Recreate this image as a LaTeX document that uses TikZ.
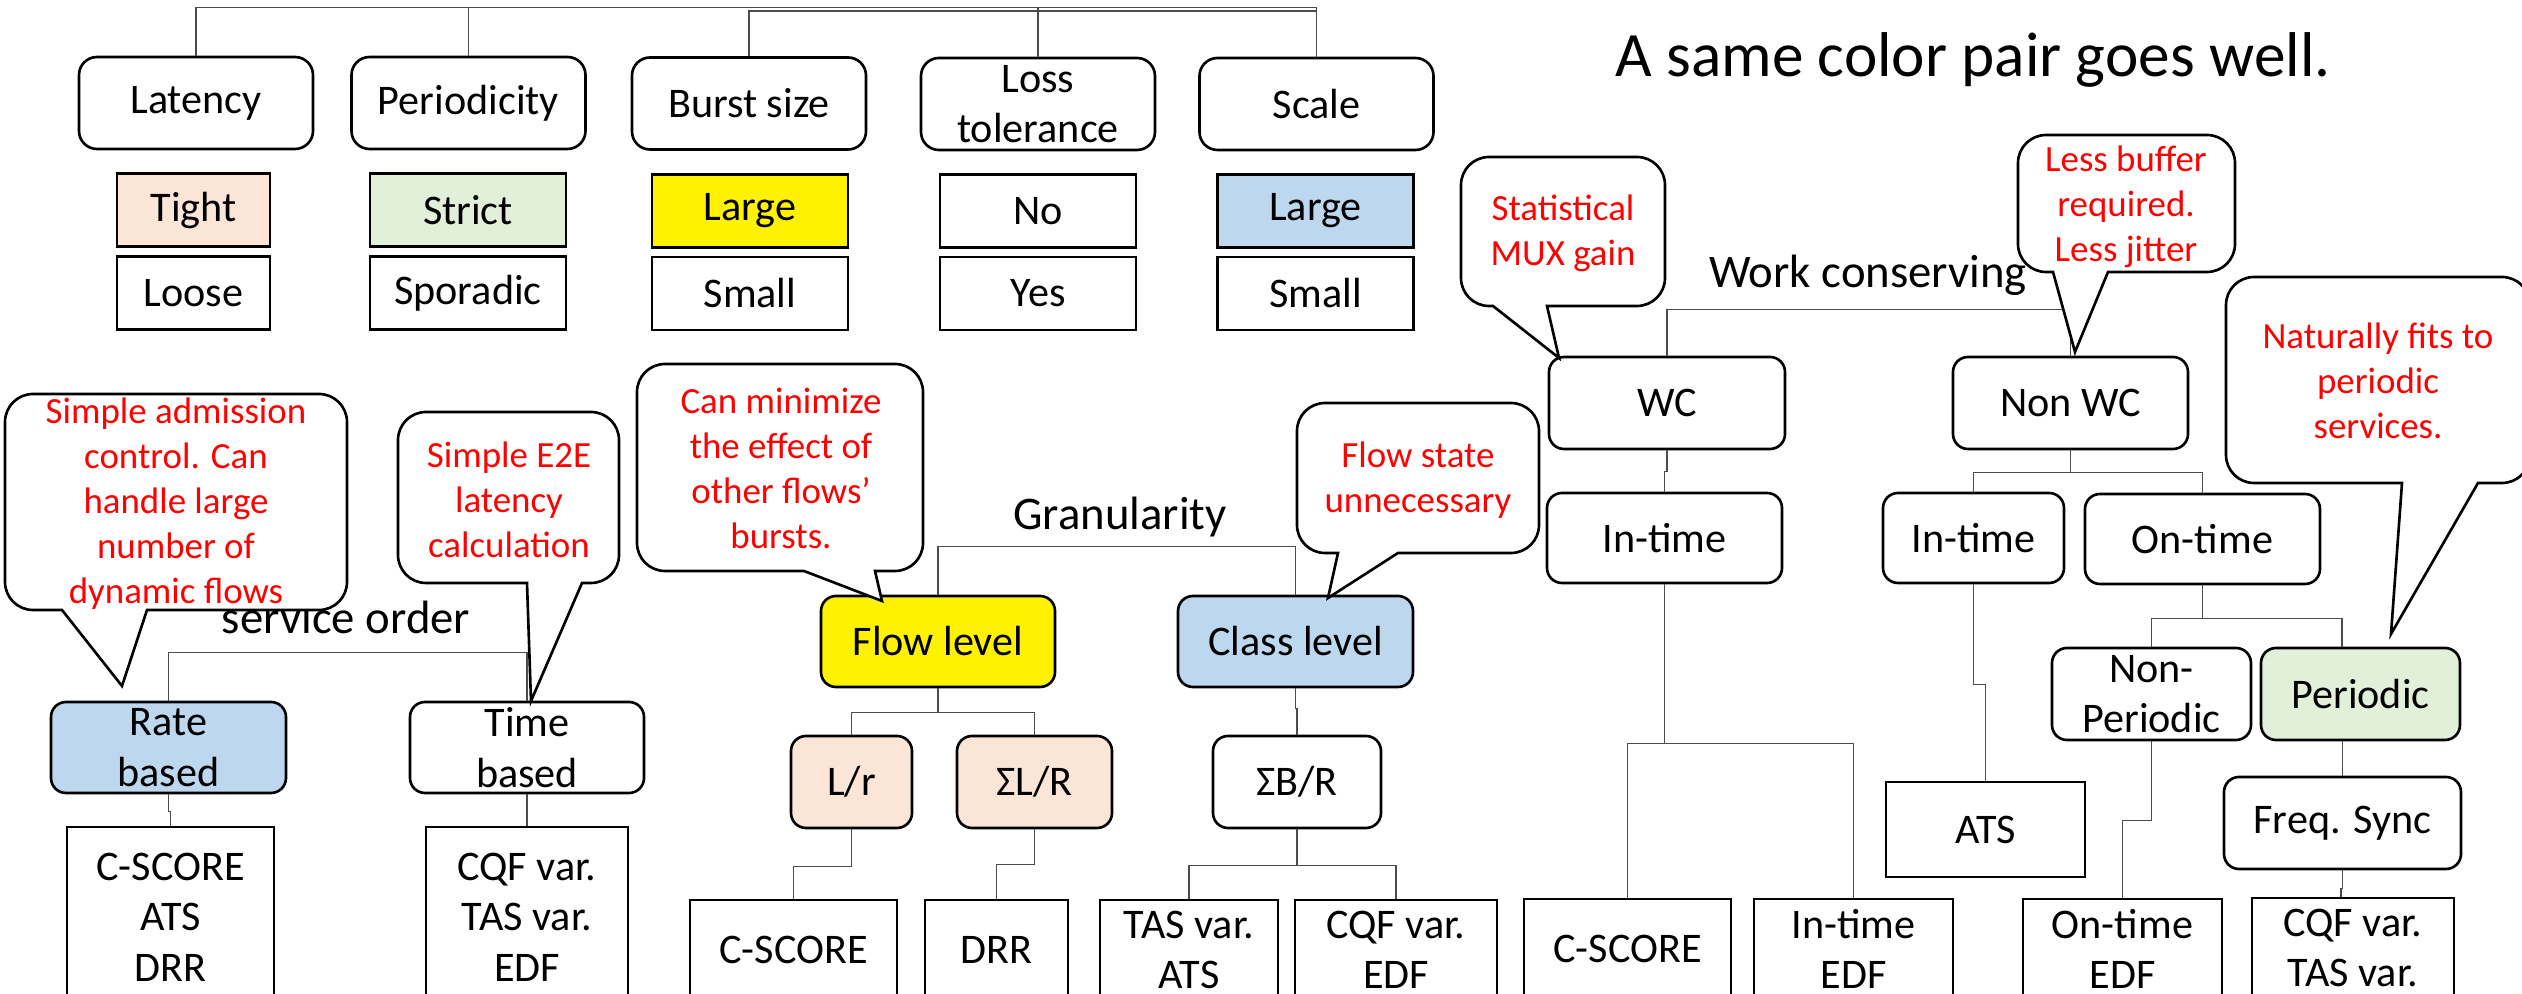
\documentclass[tikz,border=0pt]{standalone}
\usepackage{fontspec}
\setmainfont{Carlito}
\usepackage{xcolor}
\usepackage{tikz}
\definecolor{peach}{HTML}{FBE5D6}
\definecolor{mint}{HTML}{E2F0D9}
\definecolor{sky}{HTML}{BDD7EE}
\tikzstyle{rbox} = [draw,line width=0.75pt,rounded corners=1.5mm,align=center,inner sep=0pt,font=\fontsize{12}{14.4}\selectfont]
\tikzstyle{sbox} = [draw,line width=0.75pt,align=center,inner sep=0pt,font=\fontsize{12}{14.4}\selectfont]
\tikzstyle{topbox} = [rbox,rounded corners=1.8mm,minimum width=2.34cm,minimum height=0.92cm]
\tikzstyle{valbox} = [sbox,minimum width=1.96cm,minimum height=0.73cm]
\tikzstyle{note} = [text=red,align=center,inner sep=0pt,font=\fontsize{10.5}{12.8}\selectfont]
\tikzstyle{lbl} = [anchor=base,inner sep=0pt,font=\fontsize{13.3}{16}\selectfont]
\tikzstyle{link} = [draw=black!70,line width=0.45pt]
\tikzstyle{bubble} = [draw,line width=0.75pt,fill=white]
% speech bubble: left, top, right, bottom, pointer base left/right, pointer tip
\newcommand{\bubble}[8]{%
  \path[bubble] (#5,#4) -- (#7,#8) -- (#6,#4) -- ({#3-0.28},#4)
    arc[start angle=270,end angle=360,radius=0.28] -- (#3,{#2-0.28})
    arc[start angle=0,end angle=90,radius=0.28] -- ({#1+0.28},#2)
    arc[start angle=90,end angle=180,radius=0.28] -- (#1,{#4+0.28})
    arc[start angle=180,end angle=270,radius=0.28] -- cycle;}

\begin{document}
\begin{tikzpicture}
\useasboundingbox (0,0) rectangle (25.22,-9.94);
\clip (0,0) rectangle (25.22,-9.94);

% properties
\node[topbox] (lat) at (1.96,-1.03) {Latency};
\node[topbox] (per) at (4.685,-1.03) {Periodicity};
\node[topbox] (bur) at (7.49,-1.035) {Burst size};
\node[topbox] (los) at (10.38,-1.04) {Loss\\tolerance};
\node[topbox] (sca) at (13.165,-1.04) {Scale};

\node[valbox,fill=peach,minimum width=1.53cm] (tig) at (1.935,-2.10) {Tight};
\node[valbox,minimum width=1.53cm] (loo) at (1.935,-2.93) {Loose};
\node[valbox,fill=mint] (str) at (4.68,-2.10) {Strict};
\node[valbox] (spo) at (4.68,-2.93) {Sporadic};
\node[valbox,fill=yellow] (lar) at (7.50,-2.11) {Large};
\node[valbox] (sma) at (7.50,-2.935) {Small};
\node[valbox] (no) at (10.38,-2.11) {No};
\node[valbox] (yes) at (10.38,-2.935) {Yes};
\node[valbox,fill=sky] (lab) at (13.155,-2.11) {Large};
\node[valbox] (sml) at (13.155,-2.935) {Small};

\node[anchor=base,inner sep=0pt,font=\fontsize{18}{22}\selectfont] (title) at (19.73,-0.77) {A same color pair goes well.};

% service order
\node[rbox,fill=sky,minimum width=2.35cm,minimum height=0.91cm] (rat) at (1.685,-7.475) {Rate\\based};
\node[rbox,minimum width=2.34cm,minimum height=0.91cm] (tim) at (5.27,-7.475) {Time\\based};
\node[sbox,minimum width=2.07cm,minimum height=1.8cm] (lfr) at (1.705,-9.17) {C-SCORE\\ATS\\DRR};
\node[sbox,minimum width=2.02cm,minimum height=1.8cm] (lft) at (5.27,-9.17) {CQF var.\\TAS var.\\EDF};
\node[lbl] (ord) at (3.46,-6.34) {service order};

% granularity
\node[rbox,fill=yellow,minimum width=2.34cm,minimum height=0.91cm] (flo) at (9.38,-6.415) {Flow level};
\node[rbox,fill=sky,minimum width=2.35cm,minimum height=0.91cm] (cla) at (12.955,-6.415) {Class level};
\node[rbox,fill=peach,minimum width=1.21cm,minimum height=0.92cm] (lr) at (8.515,-7.82) {L/r};
\node[rbox,fill=peach,minimum width=1.55cm,minimum height=0.92cm] (slr) at (10.345,-7.82) {ΣL/R};
\node[rbox,minimum width=1.68cm,minimum height=0.92cm] (sbr) at (12.97,-7.82) {ΣB/R};
\node[sbox,minimum width=2.07cm,minimum height=1.0cm] (cs1) at (7.935,-9.5) {C-SCORE};
\node[sbox,minimum width=1.43cm,minimum height=1.0cm] (drr) at (9.965,-9.5) {DRR};
\node[sbox,minimum width=1.78cm,minimum height=1.0cm] (tas) at (11.89,-9.5) {TAS var.\\ATS};
\node[sbox,minimum width=2.02cm,minimum height=1.0cm] (cqf) at (13.96,-9.5) {CQF var.\\EDF};
\node[lbl] (gra) at (11.2,-5.30) {Granularity};

% work conserving
\node[rbox,minimum width=2.36cm,minimum height=0.92cm] (wc) at (16.67,-4.03) {WC};
\node[rbox,minimum width=2.35cm,minimum height=0.92cm] (nwc) at (20.705,-4.03) {Non WC};
\node[rbox,minimum width=2.35cm,minimum height=0.90cm] (it1) at (16.645,-5.38) {In-time};
\node[rbox,minimum width=1.81cm,minimum height=0.90cm] (it2) at (19.735,-5.38) {In-time};
\node[rbox,minimum width=2.35cm,minimum height=0.90cm] (ont) at (22.025,-5.39) {On-time};
\node[rbox,minimum width=1.99cm,minimum height=0.92cm] (npe) at (21.515,-6.94) {Non-\\Periodic};
\node[rbox,fill=mint,minimum width=1.99cm,minimum height=0.92cm] (pe2) at (23.605,-6.94) {Periodic};
\node[rbox,minimum width=2.37cm,minimum height=0.92cm] (frq) at (23.425,-8.23) {Freq. Sync};
\node[sbox,minimum width=1.99cm,minimum height=0.95cm] (ats) at (19.855,-8.295) {ATS};
\node[sbox,minimum width=2.07cm,minimum height=1.0cm] (cs2) at (16.275,-9.49) {C-SCORE};
\node[sbox,minimum width=1.99cm,minimum height=1.0cm] (ied) at (18.535,-9.49) {In-time\\EDF};
\node[sbox,minimum width=1.99cm,minimum height=1.0cm] (oed) at (21.225,-9.49) {On-time\\EDF};
\node[sbox,minimum width=2.02cm,minimum height=1.0cm] (cqt) at (23.53,-9.48) {CQF var.\\TAS var.};
\node[lbl] (wcl) at (18.68,-2.88) {Work conserving};

% connectors
\draw[link] (lat.north) -- ++(0,0.48) -| (sca.north);
\draw[link] (per.north) -- ++(0,0.48);
\draw[link] (los.north) -- ++(0,0.49);
\draw[link] (bur.north) -- ++(0,0.45) -| (sca.north);

\draw[link] (rat.north) -- ++(0,0.48) -| (tim.north);
\draw[link] (rat.south) -- ++(0,-0.17) -| (lfr.north);
\draw[link] (tim.south) -- (lft.north);

\draw[link] (flo.north) -- ++(0,0.48) -| (cla.north);
\draw[link] (flo.south) -- ++(0,-0.24) -| (lr.north);
\draw[link] (flo.south) -- ++(0,-0.24) -| (slr.north);
\draw[link] (cla.south) -- ++(0,-0.2) -| (sbr.north);
\draw[link] (lr.south) -- ++(0,-0.37) -| (cs1.north);
\draw[link] (slr.south) -- ++(0,-0.35) -| (drr.north);
\draw[link] (sbr.south) -- ++(0,-0.36) -| (tas.north);
\draw[link] (sbr.south) -- ++(0,-0.36) -| (cqf.north);

\draw[link] (wc.north) -- ++(0,0.46) -| (nwc.north);
\draw[link] (wc.south) -- ++(0,-0.21) -| (it1.north);
\draw[link] (nwc.south) -- ++(0,-0.22) -| (it2.north);
\draw[link] (nwc.south) -- ++(0,-0.22) -| (ont.north);
\draw[link] (it1.south) -- ++(0,-1.59) -| (cs2.north);
\draw[link] (it1.south) -- ++(0,-1.59) -| (ied.north);
\draw[link] (it2.south) -- ++(0,-1.0) -| (ats.north);
\draw[link] (ont.south) -- ++(0,-0.33) -| (npe.north);
\draw[link] (ont.south) -- ++(0,-0.33) -| ([xshift=-0.185cm]pe2.north);
\draw[link] (npe.south) -- ++(0,-0.79) -| (oed.north);
\draw[link] ([xshift=-0.18cm]pe2.south) -- ++(0,-0.2) -| (frq.north);
\draw[link] (frq.south) -- ++(0,-0.18) -| ([xshift=-0.12cm]cqt.north);

% callouts
\bubble{0.05}{-3.94}{3.47}{-6.10}{0.62}{1.47}{1.22}{-6.86}
\bubble{3.98}{-4.12}{6.19}{-5.83}{5.27}{5.82}{5.31}{-7.01}
\bubble{6.37}{-3.64}{9.23}{-5.71}{8.04}{8.75}{8.82}{-6.01}
\bubble{12.97}{-4.03}{15.39}{-5.53}{13.38}{13.98}{13.28}{-5.98}
\bubble{14.61}{-1.57}{16.65}{-3.06}{14.93}{15.47}{15.59}{-3.58}
\bubble{20.18}{-1.35}{22.35}{-2.72}{20.53}{21.08}{20.75}{-3.52}
\bubble{22.26}{-2.77}{25.30}{-4.83}{24.02}{24.78}{23.91}{-6.34}

\node[note] (nadm) at (1.76,-5.04) {Simple admission\\control. Can\\handle large\\number of\\dynamic flows};
\node[note] (ne2e) at (5.09,-5.00) {Simple E2E\\latency\\calculation};
\node[note] (nmin) at (7.81,-4.685) {Can minimize\\the effect of\\other flows’\\bursts.};
\node[note] (nfst) at (14.18,-4.80) {Flow state\\unnecessary};
\node[note] (nmux) at (15.63,-2.335) {Statistical\\MUX gain};
\node[note] (nbuf) at (21.26,-2.065) {Less buffer\\required.\\Less jitter};
\node[note] (nnat) at (23.78,-3.81) {Naturally fits to\\periodic\\services.};
\end{tikzpicture}
\end{document}
